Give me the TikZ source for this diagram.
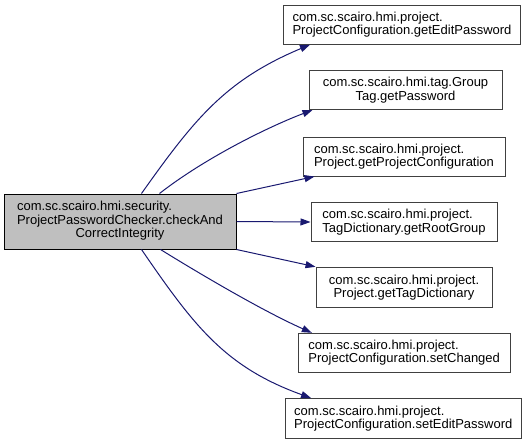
\documentclass[tikz,border=0pt]{standalone}
\usepackage{fontspec}
\setmainfont{Liberation Sans}
\usetikzlibrary{arrows.meta,calc}
\definecolor{edgec}{RGB}{25,25,112}
\definecolor{bordc}{RGB}{64,64,64}
\definecolor{mainfill}{RGB}{191,191,191}
\begin{document}
\begin{tikzpicture}[x=1pt,y=-1pt,
  box/.style={draw=bordc, line width=1pt, fill=white, inner sep=0pt,
    font=\fontsize{13}{13.3}\selectfont},
  mainbox/.style={box, draw=black, fill=mainfill},
  edge/.style={draw=edgec, line width=1pt, -{Triangle[length=10pt,width=7pt]}}]
\useasboundingbox (0,0) rectangle (529,444);

\node[mainbox, minimum width=232pt, minimum height=55pt] (main) at (120,221.5)
  {\begin{tabular}{@{}l@{}}com.sc.scairo.hmi.security.\\ProjectPasswordChecker.checkAnd\\\multicolumn{1}{@{}c@{}}{CorrectIntegrity}\end{tabular}};

\node[box, minimum width=237pt, minimum height=39pt, align=left] (b1) at (402,24.7)
  {com.sc.scairo.hmi.project.\\ProjectConfiguration.getEditPassword};
\node[box, minimum width=193pt, minimum height=39pt, align=center] (b2) at (405.5,90)
  {com.sc.scairo.hmi.tag.Group\\Tag.getPassword};
\node[box, minimum width=202pt, minimum height=39pt, align=left] (b3) at (404,156.5)
  {com.sc.scairo.hmi.project.\\Project.getProjectConfiguration};
\node[box, minimum width=186pt, minimum height=39.5pt, align=left] (b4) at (404,222)
  {com.sc.scairo.hmi.project.\\TagDictionary.getRootGroup};
\node[box, minimum width=176pt, minimum height=40pt, align=center] (b5) at (404,287.3)
  {com.sc.scairo.hmi.project.\\Project.getTagDictionary};
\node[box, minimum width=211.7pt, minimum height=39pt, align=left] (b6) at (404.2,352.8)
  {com.sc.scairo.hmi.project.\\ProjectConfiguration.setChanged};
\node[box, minimum width=235.5pt, minimum height=39.5pt, align=left] (b7) at (403.3,418.3)
  {com.sc.scairo.hmi.project.\\ProjectConfiguration.setEditPassword};

\draw[edge] ($(main.north west)+(138,0)$) .. controls (195,118) and (226,80) .. ($(b1.south west)+(27,0)$);
\draw[edge] ($(main.north west)+(156,0)$) .. controls (205,158) and (268,127) .. ($(b2.south west)+(4,0)$);
\draw[edge] (main.north east) -- ($(b3.south west)+(12,0)$);
\draw[edge] (main.east) -- (b4.west);
\draw[edge] (main.south east) -- (b5.north west);
\draw[edge] ($(main.south west)+(157,0)$) .. controls (205,277) and (265,312) .. ($(b6.north west)+(14,0)$);
\draw[edge] ($(main.south west)+(138,0)$) .. controls (194,326) and (225,367) .. ($(b7.north west)+(26,0)$);
\end{tikzpicture}
\end{document}
